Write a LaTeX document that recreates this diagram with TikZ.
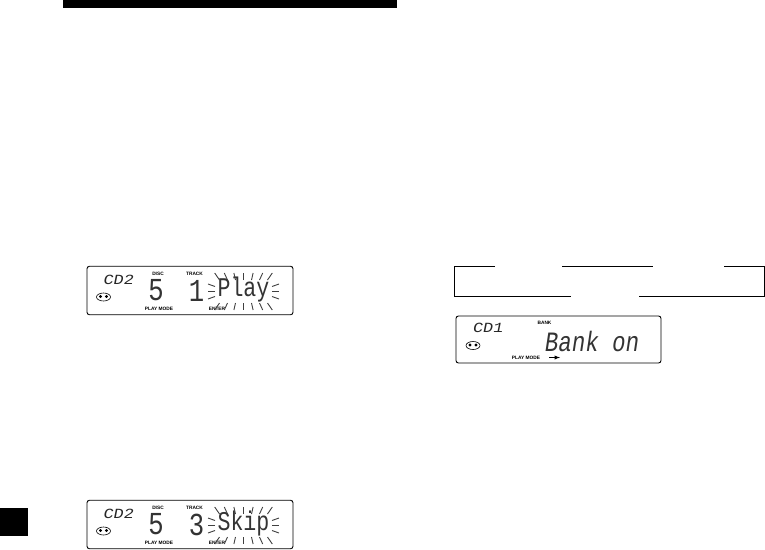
\documentclass[tikz,border=0pt]{standalone}
\usepackage{fontspec}
\setmainfont{Liberation Sans}
\newfontfamily\lcdfont[FakeStretch=0.8]{Liberation Mono}
\newfontfamily\lcdslant[FakeStretch=0.8,FakeSlant=0.15]{Liberation Mono}
\newfontfamily\lcdwide[FakeStretch=1.2,FakeSlant=0.2]{Liberation Mono}
\usepackage{tikz}
\usetikzlibrary{calc}
\tikzset{
  lcdbox/.style={draw, rounded corners=2.5pt, line width=0.9pt, minimum width=206pt, minimum height=48.5pt, inner sep=0pt},
  lcdsmall/.style={font=\fontsize{14pt}{16pt}\lcdwide, inner sep=0pt, text=black!85},
  lcdbig/.style={font=\fontsize{32pt}{34pt}\lcdfont, inner sep=0pt, text=black!80},
  lcdword/.style={font=\fontsize{27pt}{29pt}\lcdfont, inner sep=0pt, text=black!80},
  caption/.style={font=\fontsize{4.8pt}{5pt}\bfseries, inner sep=0pt},
  frameline/.style={line width=0.8pt},
  ray/.style={line width=0.9pt, black!75}
}
\begin{document}
\begin{tikzpicture}[x=1pt,y=-1pt]
        \useasboundingbox (0,0) rectangle (765,549);
        % Header bar and tab
        \node[fill=black, inner sep=0pt, minimum width=334pt, minimum height=8pt] (bar) at (230,4) {};
        \node[fill=black, inner sep=0pt, minimum width=28pt, minimum height=28pt] (tab) at (14,522) {};

        % Display 1
        \node[lcdbox] (playbox) at (190,290.5) {};
        \node[lcdsmall] (playcd) at (118,279.5) {CD2};
        \node[caption] (playdisc) at (158,274) {DISC};
        \node[caption] (playtrack) at (194.5,274) {TRACK};
        \node[lcdbig] (playnum) at (156,290.5) {5};
        \node[lcdbig] (playtr) at (196.5,290.5) {1};
        \node[lcdword] (playword) at (243.5,290) {Play};
        \node[caption] (playmode) at (159,308.5) {PLAY MODE};
        \node[caption] (playenter) at (217,308.5) {ENTER};
        \draw[fill=white, line width=0.6pt] (103.5,297) ellipse (7pt and 4pt);
        \fill (100.5,296.5) circle (1.7pt);
        \fill (106.5,296.5) circle (1.7pt);
        \coordinate (playglow) at (243.5,291.5);
        \foreach \dx in {-24,-16,-8,0,8,16,24} {
          \draw[ray] ($(playglow)+(\dx,-11.5)$) -- ($(playglow)+(1.2*\dx,-18.5)$);
          \draw[ray] ($(playglow)+(\dx,11.5)$) -- ($(playglow)+(1.2*\dx,18.5)$);
        }
        \foreach \dy in {-5,0,5} {
          \draw[ray] ($(playglow)+(-28.5,\dy)$) -- ($(playglow)+(-35.5,1.5*\dy)$);
          \draw[ray] ($(playglow)+(28.5,\dy)$) -- ($(playglow)+(35.5,1.5*\dy)$);
        }

        % Display 2
        \node[lcdbox] (skipbox) at (190,524.5) {};
        \node[lcdsmall] (skipcd) at (118,513.5) {CD2};
        \node[caption] (skipdisc) at (158,508) {DISC};
        \node[caption] (skiptrack) at (194.5,508) {TRACK};
        \node[lcdbig] (skipnum) at (156,524.5) {5};
        \node[lcdbig] (skiptr) at (196.5,524.5) {3};
        \node[lcdword] (skipword) at (243.5,524) {Skip};
        \node[caption] (skipmode) at (159,542.5) {PLAY MODE};
        \node[caption] (skipenter) at (217,542.5) {ENTER};
        \draw[fill=white, line width=0.6pt] (103.5,531) ellipse (7pt and 4pt);
        \fill (100.5,530.5) circle (1.7pt);
        \fill (106.5,530.5) circle (1.7pt);
        \coordinate (skipglow) at (243.5,525.5);
        \foreach \dx in {-24,-16,-8,0,8,16,24} {
          \draw[ray] ($(skipglow)+(\dx,-11.5)$) -- ($(skipglow)+(1.2*\dx,-18.5)$);
          \draw[ray] ($(skipglow)+(\dx,11.5)$) -- ($(skipglow)+(1.2*\dx,18.5)$);
        }
        \foreach \dy in {-5,0,5} {
          \draw[ray] ($(skipglow)+(-28.5,\dy)$) -- ($(skipglow)+(-35.5,1.5*\dy)$);
          \draw[ray] ($(skipglow)+(28.5,\dy)$) -- ($(skipglow)+(35.5,1.5*\dy)$);
        }

        % Display 3
        \node[lcdbox, minimum width=205pt, minimum height=47pt] (bankbox) at (558.5,339.5) {};
        \node[lcdsmall] (bankcd) at (487.5,328) {CD1};
        \node[caption] (bankcap) at (544.5,322.5) {BANK};
        \node[lcdword, font=\fontsize{28pt}{30pt}\lcdslant] (bankword) at (591,341.5) {Bank on};
        \node[caption] (bankmode) at (526,357.5) {PLAY MODE};
        \draw[fill=white, line width=0.6pt] (473,345.5) ellipse (7pt and 4pt);
        \fill (470,345) circle (1.7pt);
        \fill (476,345) circle (1.7pt);
        \coordinate (arrowa) at (549,357.5);
        \coordinate (arrowb) at (560,357.5);
        \draw[-latex, line width=0.9pt] (arrowa) -- (arrowb);

        % Open frame
        \coordinate (fa) at (454,266);
        \coordinate (fb) at (495,266);
        \coordinate (fc) at (562,266);
        \coordinate (fd) at (653,266);
        \coordinate (fe) at (724,266);
        \coordinate (ff) at (764,266);
        \coordinate (fg) at (764,296);
        \coordinate (fh) at (639,296);
        \coordinate (fi) at (571,296);
        \coordinate (fj) at (454,296);
        \draw[frameline] (fb) -- (fa) -- (fj) -- (fi);
        \draw[frameline] (fc) -- (fd);
        \draw[frameline] (fe) -- (ff) -- (fg) -- (fh);
    \end{tikzpicture}
\end{document}
